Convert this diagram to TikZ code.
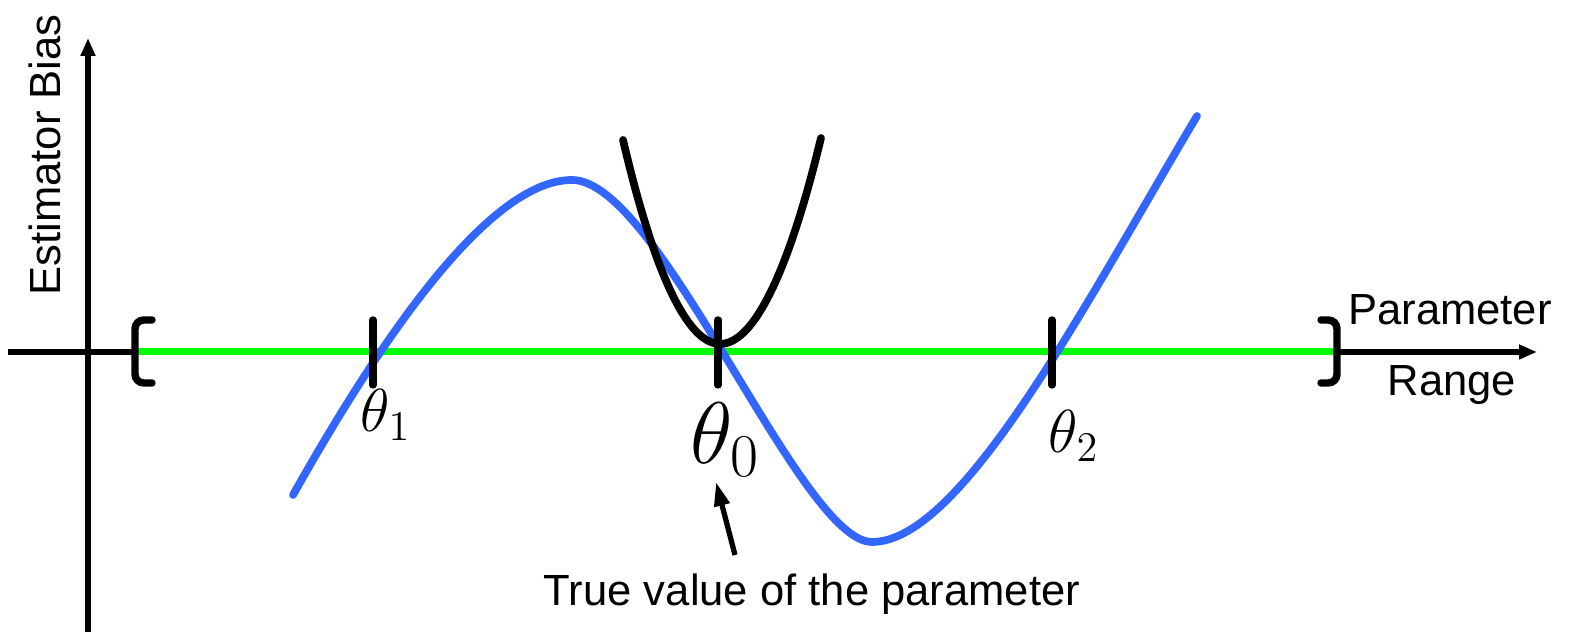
\documentclass[tikz,border=0pt]{standalone}
\usepackage{fontspec}
\setmainfont{Liberation Sans}
\usepackage{xcolor}
\usepackage{tikz}
\usetikzlibrary{arrows.meta, positioning}
\definecolor{biasblue}{HTML}{3366FF}
\definecolor{rangegreen}{HTML}{00FF00}
\definecolor{ink}{HTML}{000000}
\tikzset{
  axisline/.style  = {line width=1.5pt, draw=ink, -{Triangle[length=1.8mm,width=1.4mm]}},
  rangeline/.style = {line width=2pt, draw=rangegreen},
  bracket/.style   = {line width=2.1pt, draw=ink, line cap=round, rounded corners=2.5pt},
  tickmark/.style  = {line width=2.1pt, draw=ink, line cap=round},
  biascurve/.style = {line width=2.2pt, draw=biasblue, line cap=round},
  approx/.style    = {line width=2.2pt, draw=ink, line cap=round},
  pointer/.style   = {line width=1.5pt, draw=ink, -{Triangle[length=2.4mm,width=1.5mm]}},
  txt/.style       = {inner sep=0pt, font=\fontsize{12.4}{14}\selectfont},
  thlabel/.style   = {inner sep=0pt, font=\fontsize{18}{21}\selectfont},
}

\begin{document}
\begin{tikzpicture}
  \useasboundingbox (0,0) rectangle (15.75,6.39);

  % axes
  \coordinate (yfoot) at (0.88,0.07);
  \coordinate (ytop)  at (0.88,6.01);
  \coordinate (xfoot) at (0.08,2.87);
  \coordinate (xtop)  at (15.37,2.87);
  \draw[axisline] (yfoot) -- (ytop);
  \draw[axisline] (xfoot) -- (xtop);

  % parameter range
  \coordinate (rlo) at (1.38,2.87);
  \coordinate (rhi) at (13.33,2.87);
  \draw[rangeline] (rlo) -- (rhi);
  \draw[bracket] (1.52,3.19) -- (1.35,3.19) -- (1.35,2.56) -- (1.52,2.56);
  \draw[bracket] (13.21,3.19) -- (13.37,3.19) -- (13.37,2.56) -- (13.21,2.56);

  % bias curve
  \coordinate (bstart) at (2.93,1.44);
  \coordinate (bpeak)  at (5.72,4.59);
  \coordinate (bmin)   at (8.72,0.97);
  \coordinate (bend)   at (11.97,5.23);
  \draw[biascurve] (bstart) .. controls (3.93,3.22) and (4.95,4.59) .. (bpeak)
                            .. controls (6.60,4.59) and (8.00,0.97) .. (bmin)
                            .. controls (9.62,0.97) and (10.85,3.35) .. (bend);

  % local approximation
  \coordinate (pleft)  at (6.23,4.99);
  \coordinate (pbot)   at (7.20,2.95);
  \coordinate (pright) at (8.21,5.01);
  \draw[approx] (pleft) parabola bend (pbot) (pright);

  % zeros
  \foreach \name/\x in {t1/3.73, t0/7.18, t2/10.52}
    \draw[tickmark] (\x,3.19) coordinate (\name up) -- (\x,2.54) coordinate (\name down);

  \node[thlabel] (th1) at (3.86,2.24) {$\theta_1$};
  \node[thlabel, font=\fontsize{24}{27}\selectfont] (th0) at (7.25,1.99) {$\theta_0$};
  \node[thlabel] (th2) at (10.74,2.03) {$\theta_2$};

  \node[txt] (param) at (14.50,3.29) {Parameter};
  \node[txt] (rng)   at (14.52,2.54) {Range};
  \node[txt, rotate=90] (bias) at (0.45,4.84) {Estimator Bias};

  \node[txt] (truth) at (8.12,0.45) {True value of the parameter};
  \coordinate (tail) at (7.35,0.84);
  \coordinate (tip)  at (7.16,1.57);
  \draw[pointer] (tail) -- (tip);

\end{tikzpicture}
\end{document}
